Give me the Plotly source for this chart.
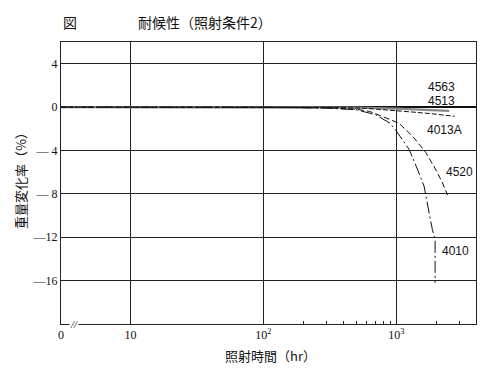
import plotly.graph_objects as go
import math

# ---- data ----
hours_4563 = [3, 100, 1000, 2700]
vals_4563 = [0, 0, 0, 0]

hours_4513 = [3, 100, 500, 1000, 1500, 2500]
vals_4513 = [0, 0, -0.05, -0.15, -0.25, -0.35]

hours_4013A = [3, 100, 400, 600, 1000, 1300, 1800, 2750]
vals_4013A = [0, 0, -0.05, -0.12, -0.3, -0.45, -0.6, -0.85]

hours_4520 = [3, 100, 300, 500, 630, 800, 1050, 1330, 1670, 1990, 2230, 2430]
vals_4520 = [0, 0, -0.05, -0.2, -0.4, -0.9, -1.5, -2.7, -4.2, -5.8, -7.0, -8.1]

hours_4010 = [3, 100, 300, 500, 700, 900, 1000, 1250, 1450, 1620, 1770, 1870, 1960, 1960]
vals_4010 = [0, 0, -0.1, -0.25, -0.7, -1.5, -2.2, -3.9, -5.8, -7.3, -9.8, -11.3, -12.2, -16.2]

x_tickvals = [3, 10, 100, 1000]
x_ticktext = ["0", "10", "10<sup>2</sup>", "10<sup>3</sup>"]
x_minor_ticks = [200, 300, 400, 500, 600, 700, 800, 900, 2000, 3000]
y_tickvals = [4, 0, -4, -8, -12, -16]
y_ticktext = ["4", "0", "— 4", "— 8", "—12", "—16"]

series = [
    ("4563", hours_4563, vals_4563, dict(color="#111", width=1.2)),
    ("4513", hours_4513, vals_4513, dict(color="#888", width=2.2)),
    ("4013A", hours_4013A, vals_4013A, dict(color="#111", width=1, dash="5px,2px")),
    ("4520", hours_4520, vals_4520, dict(color="#111", width=1, dash="6px,3px")),
    ("4010", hours_4010, vals_4010, dict(color="#111", width=1, dash="12px,3px,2px,3px")),
]

fig = go.Figure()
for name, xs, ys, ln in series:
    fig.add_trace(go.Scatter(x=xs, y=ys, mode="lines", name=name, line=ln,
                             showlegend=False, hoverinfo="skip"))

# invisible trace on secondary x axis so it renders minor tick marks
fig.add_trace(go.Scatter(x=[3, 4000], y=[None, None], xaxis="x2", mode="lines",
                         showlegend=False, hoverinfo="skip"))

xr = [math.log10(3.0), 3.60]
serif = "Liberation Serif, Times New Roman, serif"
sans = "Liberation Sans, Arial, sans-serif"
cjk = "Noto Sans CJK JP, sans-serif"

# page has an 8px body margin: figure is drawn 8px right/down
fig.update_layout(
    width=492, height=360,
    margin=dict(l=53, r=24, t=34, b=44),
    paper_bgcolor="white", plot_bgcolor="white",
    xaxis=dict(type="log", range=xr, tickvals=x_tickvals, ticktext=x_ticktext,
               showgrid=True, gridcolor="#222", gridwidth=1,
               showline=True, linecolor="#222", linewidth=1, mirror=True,
               ticks="", tickfont=dict(family=serif, size=12, color="#111"),
               zeroline=False),
    xaxis2=dict(type="log", range=xr, overlaying="x", side="bottom",
                tickvals=x_minor_ticks, showticklabels=False, ticks="inside",
                ticklen=3, tickcolor="#222", showgrid=False, showline=False,
                zeroline=False),
    yaxis=dict(range=[-20, 6], tickvals=y_tickvals, ticktext=y_ticktext,
               showgrid=True, gridcolor="#222", gridwidth=1,
               showline=True, linecolor="#222", linewidth=1, mirror=True,
               ticks="", tickfont=dict(family=serif, size=12, color="#111"),
               zeroline=True, zerolinecolor="#111", zerolinewidth=1.5),
)

label_font = dict(family=sans, size=12, color="#111")
labels = [
    ("4563", 3.233, 1.82, False),
    ("4513", 3.233, 0.55, False),
    ("4013A", 3.226, -2.15, False),
    ("4520", 3.368, -6.0, True),
    ("4010", 3.338, -13.3, True),
]
for t, lx, ly, bg in labels:
    fig.add_annotation(text=t, x=lx, y=ly, xref="x", yref="y", showarrow=False,
                       xanchor="left", yanchor="middle", font=label_font,
                       bgcolor="white" if bg else None, borderpad=0)

# page-pixel helpers (plot area spans 61..476 x, 42..324 y on the page)
def px_x(px):
    return (px - 61) / 415.0

def px_y(py):
    return (324 - py) / 282.0

fig.add_annotation(text="図", x=px_x(61), y=px_y(22), xref="paper", yref="paper",
                   showarrow=False, xanchor="left", yanchor="middle",
                   font=dict(family=cjk, size=14, color="#111"))
fig.add_annotation(text="耐候性（照射条件2）", x=px_x(136), y=px_y(22), xref="paper", yref="paper",
                   showarrow=False, xanchor="left", yanchor="middle",
                   font=dict(family=cjk, size=14, color="#111"))
fig.add_annotation(text="照射時間（hr）", x=px_x(270), y=px_y(355), xref="paper", yref="paper",
                   showarrow=False, xanchor="center", yanchor="middle",
                   font=dict(family=cjk, size=13, color="#111"))
fig.add_annotation(text="重量変化率（%）", x=px_x(20), y=px_y(178), xref="paper", yref="paper",
                   showarrow=False, xanchor="center", yanchor="middle", textangle=-90,
                   font=dict(family=cjk, size=13, color="#111"))
# axis break mark
fig.add_annotation(text="<i>//</i>", x=px_x(74), y=0, xref="paper", yref="paper",
                   showarrow=False, xanchor="center", yanchor="middle",
                   bgcolor="white", borderpad=0,
                   font=dict(family=serif, size=11, color="#111"))

fig.write_html("out.html")
